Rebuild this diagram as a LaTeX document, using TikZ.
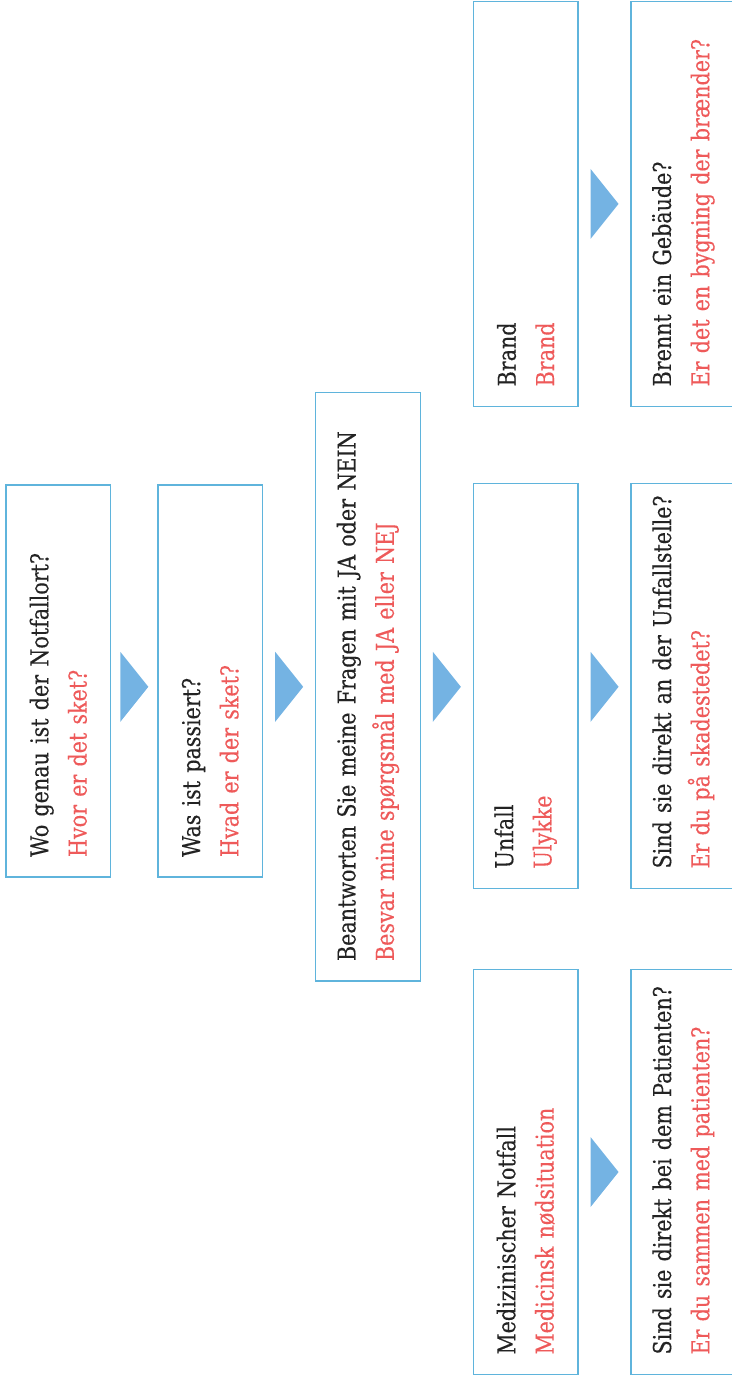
\documentclass[tikz,border=0pt]{standalone}
\usepackage{fontspec}
\setmainfont{DejaVu Serif}[FakeStretch=0.84, FakeBold=0.3]
\usetikzlibrary{calc}
\definecolor{rahmenblau}{RGB}{95,180,220}
\definecolor{pfeilblau}{RGB}{116,179,227}
\definecolor{daenischrot}{RGB}{238,90,90}
\definecolor{textschwarz}{RGB}{35,35,35}

% German line on top, Danish line in red below
\newcommand{\zweisprachig}[2]{\mbox{\color{textschwarz}#1}\\\mbox{\color{daenischrot}#2}}

\begin{document}
\begin{tikzpicture}[
    x=0.02cm, y=-0.02cm,
    every node/.style={font=\fontsize{14}{21.8}\selectfont},
    kasten/.style={draw=rahmenblau, line width=0.9pt, rotate=90,
      align=left, inner xsep=0.4cm, minimum height=2.094cm, text width=#1},
    pfeil/.style={fill=pfeilblau}
  ]

  \useasboundingbox (0,0) rectangle (732,1384);

  % ============================================================
  %  Opening questions
  % ============================================================
  \node[kasten=7.04cm] (frage1) at (58.3, 681)
    {\zweisprachig{Wo genau ist der Notfallort?}{Hvor er det sket?}};
  \node[kasten=7.04cm] (frage2) at (210.3, 681)
    {\zweisprachig{Was ist passiert?}{Hvad er der sket?}};
  \node[kasten=10.97cm] (frage3) at (368, 686.8)
    {\zweisprachig{Beantworten Sie meine Fragen mit JA oder NEIN}%
                  {Besvar mine spørgsmål med JA eller NEJ}};

  % ============================================================
  %  Kind of emergency
  % ============================================================
  \node[kasten=7.3cm] (brand) at (525.7, 203.9)
    {\zweisprachig{Brand}{Brand}};
  \node[kasten=7.3cm] (unfall) at (525.7, 686)
    {\zweisprachig{Unfall}{Ulykke}};
  \node[kasten=7.3cm] (medizin) at (525.7, 1172)
    {\zweisprachig{Medizinischer Notfall}{Medicinsk nødsituation}};

  % ============================================================
  %  Follow-up questions
  % ============================================================
  \node[kasten=7.3cm] (brennt) at (683.4, 203.9)
    {\zweisprachig{Brennt ein Gebäude?}{Er det en bygning der brænder?}};
  \node[kasten=7.3cm] (stelle) at (683.4, 686)
    {\zweisprachig{Sind sie direkt an der Unfallstelle?}{Er du på skadestedet?}};
  \node[kasten=7.3cm] (patient) at (683.4, 1172)
    {\zweisprachig{Sind sie direkt bei dem Patienten?}{Er du sammen med patienten?}};

  % --- blue triangles halfway between two boxes ---
  \foreach \von/\nach/\hoehe in {frage1/frage2/frage3, frage2/frage3/frage3,
      frage3/unfall/frage3, brand/brennt/brand, unfall/stelle/frage3,
      medizin/patient/medizin} {
    \coordinate (mitte) at ($(\von.south)!0.5!(\nach.north)$);
    \fill[pfeil] (mitte |- \hoehe.center) ++(-14,-35) -- ++(28,35)
      -- ++(-28,35) -- cycle;
  }

\end{tikzpicture}
\end{document}
